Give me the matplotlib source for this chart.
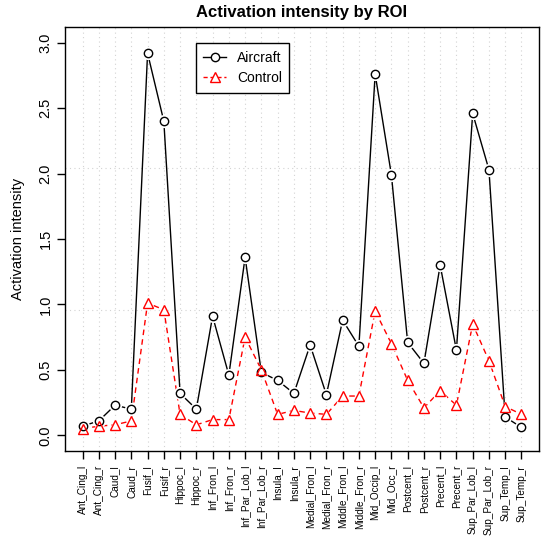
import matplotlib
matplotlib.use("Agg")
import matplotlib.pyplot as plt
import numpy as np

plt.rcParams['font.family'] = ['Liberation Sans', 'DejaVu Sans']

rois = ['Ant_Cing_l', 'Ant_Cing_r', 'Caud_l', 'Caud_r', 'Fusif_l', 'Fusif_r',
        'Hippoc_l', 'Hippoc_r', 'Inf_Fron_l', 'Inf_Fron_r', 'Inf_Par_Lob_l',
        'Inf_Par_Lob_r', 'Insula_l', 'Insula_r', 'Medial_Fron_l', 'Medial_Fron_r',
        'Middle_Fron_l', 'Middle_Fron_r', 'Mid_Occip_l', 'Mid_Occ_r', 'Postcent_l',
        'Postcent_r', 'Precent_l', 'Precent_r', 'Sup_Par_Lob_l', 'Sup_Par_Lob_r',
        'Sup_Temp_l', 'Sup_Temp_r']
aircraft = [0.07, 0.11, 0.23, 0.20, 2.92, 2.40, 0.32, 0.20, 0.91, 0.46, 1.36, 0.48,
            0.42, 0.32, 0.69, 0.31, 0.88, 0.68, 2.76, 1.99, 0.71, 0.55, 1.30, 0.65,
            2.46, 2.03, 0.14, 0.06]
control = [0.05, 0.07, 0.08, 0.11, 1.01, 0.96, 0.16, 0.08, 0.12, 0.12, 0.75, 0.50,
           0.16, 0.19, 0.17, 0.16, 0.30, 0.30, 0.95, 0.70, 0.42, 0.21, 0.34, 0.23,
           0.85, 0.57, 0.22, 0.16]

x = np.arange(len(rois))

fig = plt.figure(figsize=(5.42, 5.36), dpi=100)
ax = fig.add_axes([65/542, 1-451/536, 474/542, 424/536])

ax.set_xlim(-1.08, len(rois) - 1 + 1.08)
ax.set_ylim(-0.12, 3.12)

# grid: dotted vertical at each ROI, horizontal splitting plot in 3
for xi in x:
    ax.axvline(xi, color='#d3d3d3', lw=0.8, ls=(0, (1, 3)), zorder=1)
y0, y1 = ax.get_ylim()
for k in (1, 2):
    ax.axhline(y0 + (y1 - y0) * k / 3, color='#d3d3d3', lw=0.8, ls=(0, (1, 3)), zorder=1)

# lines (type = "b" style: gap around points)
ax.plot(x, aircraft, color='black', lw=1.0, zorder=2)
ax.plot(x, control, color='red', lw=1.0, ls=(0, (4, 3)), zorder=2)
ax.plot(x, aircraft, ls='none', marker='o', ms=9.5, mfc='white', mec='none', zorder=3)
ax.plot(x, control, ls='none', marker='^', ms=10.5, mfc='white', mec='none', zorder=3)
ax.plot(x, aircraft, ls='none', marker='o', ms=6, mfc='none', mec='black', mew=1.0, zorder=4)
ax.plot(x, control, ls='none', marker='^', ms=7.5, mfc='none', mec='red', mew=1.0, zorder=4)

ax.set_xticks(x)
ax.set_xticklabels(rois, rotation=90, fontsize=7.2)
ax.set_yticks([0, 0.5, 1.0, 1.5, 2.0, 2.5, 3.0])
ax.set_yticklabels(['0.0', '0.5', '1.0', '1.5', '2.0', '2.5', '3.0'],
                   rotation=90, va='center', fontsize=10.5)
ax.tick_params(axis='both', length=6, width=1, direction='out', color='black')
ax.tick_params(axis='y', pad=3)
ax.tick_params(axis='x', pad=4)
for s in ax.spines.values():
    s.set_linewidth(1.0)

ax.set_ylabel('Activation intensity', fontsize=10.5, labelpad=10)
ax.set_title('Activation intensity by ROI', fontsize=12, fontweight='bold', pad=7)

# legend
h1, = ax.plot([], [], color='black', lw=1.0, marker='o', ms=6, mfc='white', mec='black')
h2, = ax.plot([], [], color='red', lw=1.0, ls=(0, (3, 2)), marker='^', ms=7.5,
              mfc='white', mec='red')
leg = ax.legend([h1, h2], ['Aircraft', 'Control'], loc='upper left',
                bbox_to_anchor=(0.276, 0.962), fontsize=10, frameon=True,
                fancybox=False, edgecolor='black', framealpha=1,
                handlelength=1.6, borderpad=0.55, labelspacing=0.45,
                handletextpad=0.8, borderaxespad=0)
leg.get_frame().set_linewidth(1.0)

fig.savefig('out.png', dpi=100)
